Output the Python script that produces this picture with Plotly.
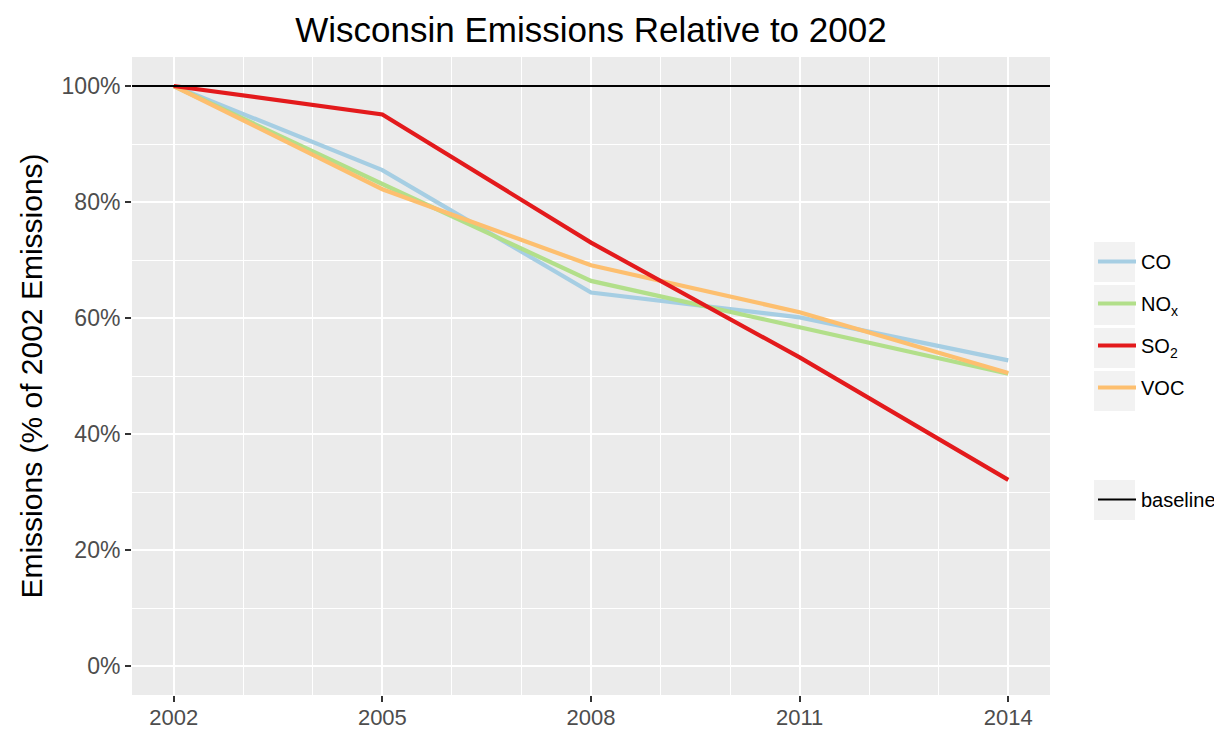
import plotly.graph_objects as go

# ---- data ----
years = [2002, 2005, 2008, 2011, 2014]
co = [100, 85.5, 64.4, 60.1, 52.7]
nox = [100, 83.1, 66.4, 58.4, 50.4]
so2 = [100, 95.1, 73.0, 53.2, 32.1]
voc = [100, 82.2, 69.1, 61.0, 50.5]
baseline_value = 100

series_names = ["CO", "NO<sub>x</sub>", "SO<sub>2</sub>", "VOC"]
series_colors = ["#a6cee3", "#b2df8a", "#e31a1c", "#fdbf6f"]
series_values = [co, nox, so2, voc]
draw_order = [0, 1, 3, 2]

y_ticks = [0, 20, 40, 60, 80, 100]
y_ticklabels = ["0%", "20%", "40%", "60%", "80%", "100%"]
x_ticks = [2002, 2005, 2008, 2011, 2014]

FONT = "Liberation Sans, Arial, sans-serif"

# page has an 8px body margin; work in page pixels and convert
OFF = 8
W, H = 1222 - OFF, 731 - OFF
L, R, T, B = 132 - OFF, 1050 - OFF, 57 - OFF, 695 - OFF

def px_to_paper_x(px):
    return (px - OFF - L) / (R - L)

def px_to_paper_y(py):
    return (B - (py - OFF)) / (B - T)

fig = go.Figure()

for i in draw_order:
    fig.add_trace(go.Scatter(
        x=years, y=series_values[i], mode="lines", name=series_names[i],
        line=dict(color=series_colors[i], width=4.2),
        legendgroup=series_names[i], legendrank=i + 1, legend="legend",
    ))

fig.add_hline(y=baseline_value, line=dict(color="black", width=1.8), layer="above")
fig.add_trace(go.Scatter(
    x=[None], y=[None], mode="lines", name="baseline",
    line=dict(color="black", width=1.8), legend="legend2",
))

# grey key backgrounds for legend entries
key_tops = [242, 285, 328, 371, 480]
for kt in key_tops:
    fig.add_shape(type="rect", xref="paper", yref="paper",
                  x0=px_to_paper_x(1094), x1=px_to_paper_x(1135),
                  y0=px_to_paper_y(kt + 40), y1=px_to_paper_y(kt),
                  fillcolor="#f2f2f2", line=dict(width=0), layer="below")

fig.update_layout(
    width=W, height=H,
    margin=dict(l=L, r=W - R, t=T, b=H - B, pad=0, autoexpand=False),
    paper_bgcolor="white",
    plot_bgcolor="#ebebeb",
    font=dict(family=FONT, color="black"),
    title=dict(text="Wisconsin Emissions Relative to 2002",
               x=(L + R) / 2 / W, xanchor="center",
               y=1 - 22 / H, yanchor="middle", yref="container",
               pad=dict(t=0, b=0, l=0, r=0),
               font=dict(size=35, color="black")),
    legend=dict(x=px_to_paper_x(1093), xanchor="left",
                y=px_to_paper_y(242), yanchor="top",
                font=dict(size=20, color="black"),
                bgcolor="rgba(0,0,0,0)", tracegroupgap=13,
                traceorder="grouped", itemwidth=38),
    legend2=dict(x=px_to_paper_x(1093), xanchor="left",
                 y=px_to_paper_y(480), yanchor="top",
                 font=dict(size=20, color="black"),
                 bgcolor="rgba(0,0,0,0)", itemwidth=38),
    xaxis=dict(range=[2001.4, 2014.6], tickvals=x_ticks,
               ticktext=[str(v) for v in x_ticks],
               showgrid=True, gridcolor="white", gridwidth=2,
               minor=dict(dtick=1, tick0=2002, showgrid=True, gridcolor="white", gridwidth=1),
               ticks="outside", ticklen=6, tickwidth=1.5, tickcolor="#333333",
               tickfont=dict(size=22, color="#4d4d4d"), ticklabelstandoff=-3,
               zeroline=False, showline=False, automargin=False),
    yaxis=dict(range=[-5, 105], tickvals=y_ticks, ticktext=y_ticklabels,
               showgrid=True, gridcolor="white", gridwidth=2,
               minor=dict(dtick=10, tick0=0, showgrid=True, gridcolor="white", gridwidth=1),
               ticks="outside", ticklen=6, tickwidth=1.5, tickcolor="#333333",
               tickfont=dict(size=23, color="#4d4d4d"),
               title=dict(text="Emissions (% of 2002 Emissions)",
                          font=dict(size=30, color="black"), standoff=10),
               zeroline=False, showline=False, automargin=False),
)

fig.write_html("out.html")
